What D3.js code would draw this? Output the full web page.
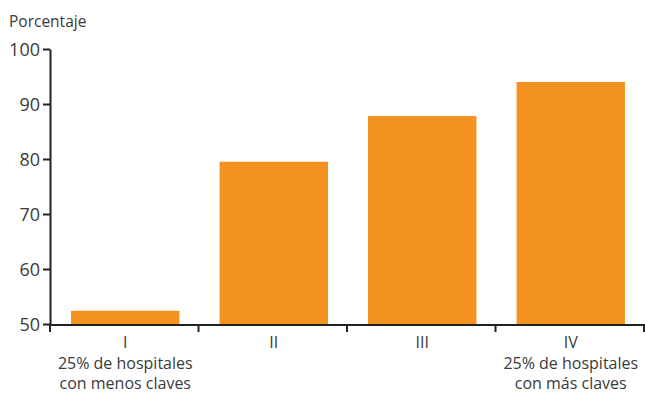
<!DOCTYPE html>
<html>
<head>
<meta charset="utf-8">
<script src="https://cdn.jsdelivr.net/npm/d3@7"></script>
<style>
  html, body { margin: 0; padding: 0; background: #fff; }
  svg { display: block; }
  text { font-family: "Open Sans", "Noto Sans", sans-serif; fill: #3a3a3a; }
</style>
</head>
<body>
<svg id="chart" width="645" height="394"></svg>
<script>
// Share of hospitals by quartile of key indicators
const categories = ["I", "II", "III", "IV"];
const values = [52.4, 79.5, 87.8, 94.0];
const subLabels = [
  ["25% de hospitales", "con menos claves"],
  [],
  [],
  ["25% de hospitales", "con más claves"]
];
const yTicks = [50, 60, 70, 80, 90, 100];
const yTitle = "Porcentaje";

const svg = d3.select("#chart");
const margin = { left: 50, right: 1, top: 49, bottom: 70 };
const width = 645, height = 394;
const baseY = 324;

const x = d3.scaleBand()
  .domain(categories)
  .range([margin.left + 1, width - margin.right + 1])
  .paddingInner(0.27)
  .paddingOuter(0.135);

const y = d3.scaleLinear()
  .domain([50, 100])
  .range([baseY, margin.top]);

// bars
svg.append("g")
  .selectAll("rect")
  .data(categories)
  .join("rect")
  .attr("x", d => x(d))
  .attr("width", x.bandwidth())
  .attr("y", (d, i) => y(values[i]))
  .attr("height", (d, i) => baseY - y(values[i]))
  .attr("fill", "#f3921f");

// y axis
const yAxis = svg.append("g")
  .attr("transform", `translate(${margin.left},0)`)
  .call(d3.axisLeft(y).tickValues(yTicks).tickSize(7).tickPadding(3).tickSizeOuter(0));
yAxis.select(".domain").attr("stroke", "#222").attr("stroke-width", 2);
yAxis.selectAll(".tick line").attr("stroke", "#222").attr("stroke-width", 2);
yAxis.selectAll(".tick text")
  .style("font-size", "18px")
  .attr("fill", "#3a3a3a")
  .attr("dy", "0.36em");

// x axis: boundary ticks between bands
const x0 = margin.left;
const x1 = width - margin.right;
const bounds = d3.range(categories.length + 1).map(i => x0 + i * (x1 - x0) / categories.length);
const xAxisG = svg.append("g");
xAxisG.append("line")
  .attr("x1", x0).attr("x2", x1)
  .attr("y1", baseY + 1).attr("y2", baseY + 1)
  .attr("stroke", "#222").attr("stroke-width", 2);
xAxisG.selectAll("line.tk")
  .data(bounds)
  .join("line")
  .attr("class", "tk")
  .attr("x1", d => d).attr("x2", d => d)
  .attr("y1", baseY).attr("y2", baseY + 8)
  .attr("stroke", "#222").attr("stroke-width", 2);

// category labels
const labelG = svg.append("g");
categories.forEach((c, i) => {
  const cx = x(c) + x.bandwidth() / 2;
  const t = labelG.append("text")
    .attr("text-anchor", "middle")
    .attr("x", cx)
    .attr("y", 348)
    .style("font-size", "16px");
  t.append("tspan").attr("x", cx).text(c);
  subLabels[i].forEach((s, j) => {
    t.append("tspan").attr("x", cx).attr("y", 369 + j * 20).text(s);
  });
});

// axis title
svg.append("text")
  .attr("x", 9)
  .attr("y", 27)
  .style("font-size", "15.5px")
  .text(yTitle);
</script>
</body>
</html>
